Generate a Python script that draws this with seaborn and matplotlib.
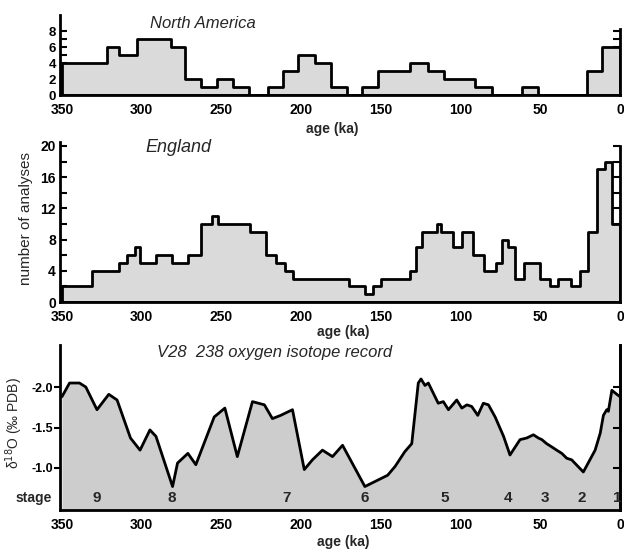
import matplotlib
matplotlib.use('Agg')
import matplotlib.pyplot as plt
import seaborn as sns
import numpy as np

sns.set_theme(style='white')
plt.rcParams['font.family'] = ['Liberation Sans', 'DejaVu Sans']

# ---------------- data ----------------
# North America: histogram bin edges (ka) and number of analyses
na_edges = [0, 11, 20.5, 51.5, 61.5, 80.5, 91, 110.5, 120.5, 132, 151.5, 161.5, 171,
            181.5, 191.5, 202, 211.5, 221, 232.5, 243, 252.5, 262.5, 273, 281.5, 303,
            314, 322, 350]
na_counts = [6, 3, 0, 1, 0, 1, 2, 3, 4, 3, 1, 0, 1, 4, 5, 3, 1, 0, 1, 2, 1, 2, 6, 7, 5, 6, 4]

# England
en_edges = [0, 5, 9.5, 14.5, 20, 25, 31, 39, 44, 50, 60, 66, 70, 74, 78, 85, 92, 99, 105,
            112, 115, 124, 128, 132, 150, 155, 160, 170, 205, 210, 216, 222, 232, 252, 256,
            262.5, 271, 281, 291, 301, 304, 309, 314, 331, 350]
en_counts = [10, 18, 17, 9, 4, 2, 3, 2, 3, 5, 3, 7, 8, 5, 4, 6, 9, 7, 9, 10, 9, 7, 4, 3,
             2, 1, 2, 3, 4, 5, 6, 9, 10, 11, 10, 6, 5, 6, 5, 7, 6, 5, 4, 2]

# V28-238 oxygen isotope record
o_age = [0, 2.6, 5.1, 7.3, 8.3, 10.4, 12.4, 15.6, 23, 30.3, 33.4, 36.5, 39.7, 42.8, 46,
         49, 51.2, 54.3, 58.5, 62.7, 69, 73, 78.3, 82.5, 85.7, 89.2, 93, 96, 99.2, 102.4,
         107.6, 110.8, 114, 120.2, 122.3, 124.8, 126.5, 130.6, 135, 141, 145.7, 160, 174,
         180.3, 186.6, 192.9, 198, 205.4, 212.8, 218, 223, 230.5, 240, 247.8, 254.5, 266,
         271, 277.5, 280.6, 291, 294.8, 301, 307, 315.4, 320.6, 328, 335, 339, 345.2, 350]
o_val = [-1.88, -1.92, -1.96, -1.70, -1.72, -1.65, -1.43, -1.22, -0.95, -1.10, -1.12, -1.18,
         -1.22, -1.26, -1.30, -1.35, -1.37, -1.41, -1.37, -1.35, -1.16, -1.39, -1.63, -1.78,
         -1.80, -1.65, -1.76, -1.78, -1.74, -1.84, -1.72, -1.82, -1.80, -2.05, -2.02, -2.10,
         -2.05, -1.30, -1.20, -1.02, -0.91, -0.77, -1.28, -1.14, -1.22, -1.10, -0.98, -1.72,
         -1.65, -1.61, -1.78, -1.82, -1.14, -1.74, -1.63, -1.04, -1.18, -1.06, -0.77, -1.39,
         -1.47, -1.22, -1.37, -1.84, -1.91, -1.72, -2.00, -2.05, -2.05, -1.88]

stage_labels = ['9', '8', '7', '6', '5', '4', '3', '2', '1']
stage_ages = [328, 281, 209, 160, 110, 70, 47, 24, 2]

age_ticks = [350, 300, 250, 200, 150, 100, 50, 0]

# ---------------- figure ----------------
W, H = 624, 549
fig = plt.figure(figsize=(W / 100, H / 100), dpi=100)
fig.patch.set_facecolor('white')


def add_ax(l, t, r, b):
    return fig.add_axes([l / W, 1 - b / H, (r - l) / W, (b - t) / H])


ax1 = add_ax(60, 15, 620, 95)
ax2 = add_ax(60, 142, 620, 302)
ax3 = add_ax(60, 345, 620, 510)

FILL_H = '#dadada'
FILL_O = '#cdcdcd'
LW = 2.0
TICKFONT = dict(fontsize=10, fontweight='bold')


def centers(edges):
    return [(a + b) / 2 for a, b in zip(edges[:-1], edges[1:])]


for ax, edges, counts in [(ax1, na_edges, na_counts), (ax2, en_edges, en_counts)]:
    sns.histplot(x=centers(edges), weights=counts, bins=edges, element='step', fill=True,
                 facecolor=FILL_H, edgecolor='black', linewidth=LW, alpha=1, ax=ax)

sns.lineplot(x=o_age, y=o_val, color='black', linewidth=LW, estimator=None, ax=ax3)
ax3.fill_between(o_age, o_val, -0.40, color=FILL_O, linewidth=0, zorder=0)

for ax in (ax1, ax2, ax3):
    ax.set_facecolor('white')
    ax.set_xlim(351.2, 0)
    ax.set_xticks(age_ticks)
    ax.set_xticklabels([str(a) for a in age_ticks], **TICKFONT)
    ax.set_xlabel('')
    ax.set_ylabel('')
    ax.spines['top'].set_visible(False)
    for s in ('left', 'right', 'bottom'):
        ax.spines[s].set_linewidth(LW)
        ax.spines[s].set_color('black')
    ax.tick_params(axis='x', direction='in', length=5, width=1.5, pad=6, colors='black')
    ax.grid(False)

# top panel y axis
ax1.set_ylim(0, 10)
ax1.set_yticks([0, 2, 4, 6, 8])
ax1.set_yticklabels(['0', '2', '4', '6', '8'], fontsize=9.5, fontweight='bold')
ax1.set_yticks([1, 3, 5, 7], minor=True)
ax1.tick_params(axis='y', which='both', direction='in', length=5, width=1.5, right=True,
                left=True, pad=3, colors='black')
ax1.spines['right'].set_bounds(0, 8.2)

# England y axis
ax2.set_ylim(0, 20.5)
ax2.set_yticks([0, 4, 8, 12, 16, 20])
ax2.set_yticklabels(['0', '4', '8', '12', '16', '20'], **TICKFONT)
ax2.set_yticks([2, 6, 10, 14, 18], minor=True)
ax2.tick_params(axis='y', which='both', direction='in', length=5, width=1.5, right=True,
                left=True, pad=3, colors='black')
ax2.spines['right'].set_bounds(0, 20)

# isotope y axis (inverted)
ax3.set_ylim(-0.48, -2.52)
ax3.set_yticks([-2.0, -1.5, -1.0])
ax3.set_yticklabels(['-2.0', '-1.5', '-1.0'], fontsize=9, fontweight='bold')
ax3.tick_params(axis='y', direction='out', length=4, width=1.5, left=True, right=False,
                pad=1, colors='black')
sec = ax3.secondary_yaxis('right')
sec.set_yticks([-2.0, -1.5, -1.0])
sec.tick_params(direction='in', length=5, width=1.5, labelright=False, colors='black')
sec.spines['right'].set_linewidth(LW)

for lab, a in zip(stage_labels, stage_ages):
    ax3.text(a, -0.63, lab, ha='center', va='center', fontsize=11, fontweight='bold')

# ---------------- texts ----------------
def ftext(x, y, s, **kw):
    fig.text(x / W, 1 - y / H, s, ha='center', va='center', **kw)


ftext(203, 23, 'North America', fontsize=12, style='italic')
ftext(332, 129, 'age (ka)', fontsize=10, fontweight='bold')
ftext(178, 147, 'England', fontsize=13, style='italic')
ftext(26, 218, 'number of analyses', fontsize=11, rotation=90)
ftext(343, 332, 'age (ka)', fontsize=10, fontweight='bold')
ftext(275, 352, 'V28  238 oxygen isotope record', fontsize=12, style='italic')
ftext(14, 423, 'δ$^{18}$O (‰ PDB)', fontsize=10, rotation=90)
ftext(34, 498, 'stage', fontsize=10, fontweight='bold')
ftext(343, 542, 'age (ka)', fontsize=10, fontweight='bold')

fig.savefig('out.png', dpi=100, facecolor='white')
